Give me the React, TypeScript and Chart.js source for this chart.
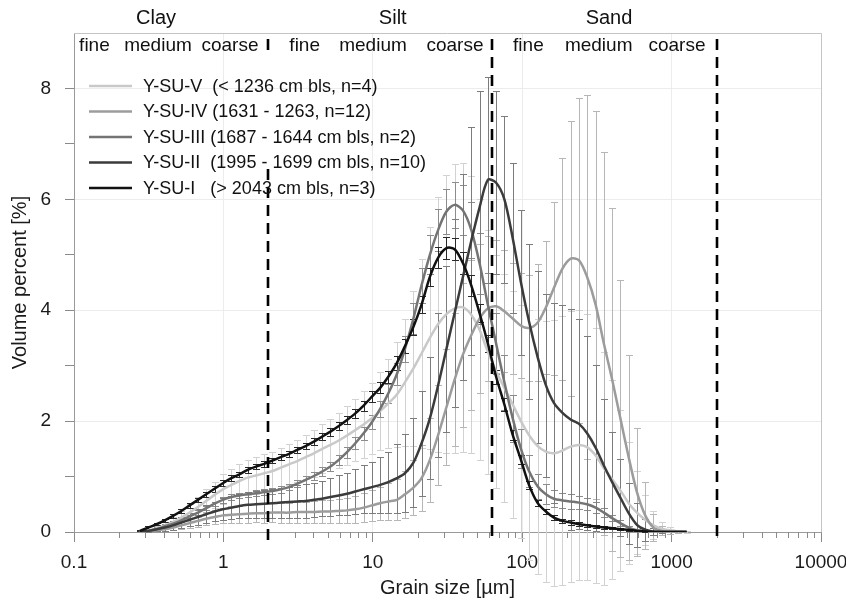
import React, { useEffect, useRef } from 'react';
import { Chart, registerables } from 'chart.js';

Chart.register(...registerables);

// ---------- DATA ----------
// grain size classes (µm)
const grainSizes = [
  0.276, 0.314, 0.357, 0.405, 0.46, 0.523, 0.594, 0.675, 0.767, 0.872, 0.991,
  1.13, 1.28, 1.45, 1.65, 1.88, 2.13, 2.42, 2.75, 3.12, 3.55, 4.03, 4.58, 5.21, 5.92, 6.72, 7.64, 8.68, 9.86,
  11.2, 12.7, 14.5, 16.4, 18.7, 21.2, 24.1, 27.4, 31.1, 35.3, 40.1, 45.6, 51.8, 58.9, 66.9, 76, 86.4, 98.1,
  111, 127, 144, 163, 186, 211, 240, 272, 310, 352, 400, 454, 516, 586, 666, 756, 859, 976,
  1110, 1260,
];

const meanV = [
  0.0, 0.03, 0.07, 0.12, 0.18, 0.26, 0.35, 0.45, 0.56, 0.67, 0.77,
  0.85, 0.92, 0.98, 1.02, 1.06, 1.1, 1.16, 1.22, 1.28, 1.35, 1.42, 1.5, 1.57, 1.65, 1.74, 1.84, 1.94, 2.05,
  2.18, 2.32, 2.48, 2.7, 2.95, 3.22, 3.5, 3.75, 3.93, 4.03, 4.05, 3.92, 3.65, 3.25, 2.9, 2.6, 2.3, 2.0,
  1.75, 1.55, 1.45, 1.42, 1.47, 1.54, 1.57, 1.53, 1.38, 1.15, 0.95, 0.75, 0.52, 0.35, 0.22, 0.12, 0.06, 0.03,
  0.01, 0.0,
];
const sdV = [
  0.0, 0.02, 0.04, 0.06, 0.09, 0.12, 0.15, 0.18, 0.21, 0.24, 0.27,
  0.28, 0.3, 0.32, 0.33, 0.34, 0.35, 0.36, 0.37, 0.38, 0.4, 0.42, 0.44, 0.47, 0.5, 0.53, 0.56, 0.6, 0.64,
  0.7, 0.8, 0.95, 1.15, 1.4, 1.7, 2.0, 2.3, 2.5, 2.6, 2.6, 2.5, 2.35, 2.2, 2.1, 2.05, 2.05, 2.1,
  2.25, 2.3, 2.35, 2.4, 2.42, 2.44, 2.44, 2.4, 2.3, 2.1, 1.8, 1.45, 1.1, 0.75, 0.45, 0.25, 0.12, 0.06,
  0.03, 0.01,
];

const meanIV = [
  0.0, 0.01, 0.03, 0.05, 0.08, 0.12, 0.16, 0.2, 0.24, 0.27, 0.3,
  0.31, 0.32, 0.33, 0.34, 0.34, 0.35, 0.35, 0.35, 0.36, 0.36, 0.36, 0.37, 0.37, 0.38, 0.39, 0.41, 0.44, 0.48,
  0.52, 0.55, 0.58, 0.68, 0.8, 0.97, 1.3, 1.75, 2.25, 2.75, 3.2, 3.55, 3.85, 4.03, 4.07, 3.98, 3.85, 3.72,
  3.68, 3.78, 4.05, 4.4, 4.75, 4.93, 4.9, 4.6, 4.1, 3.4, 2.75, 2.05, 1.35, 0.72, 0.3, 0.08, 0.02, 0.0,
  0.0, 0.0,
];
const sdIV = [
  0.0, 0.01, 0.02, 0.03, 0.05, 0.07, 0.09, 0.11, 0.12, 0.13, 0.14,
  0.15, 0.15, 0.16, 0.16, 0.17, 0.17, 0.18, 0.18, 0.19, 0.19, 0.2, 0.2, 0.21, 0.22, 0.23, 0.24, 0.26, 0.28,
  0.3, 0.33, 0.37, 0.42, 0.5, 0.6, 0.75, 0.9, 1.05, 1.2, 1.3, 1.35, 1.35, 1.3, 1.2, 1.1, 1.0, 0.95,
  0.95, 1.05, 1.2, 1.56, 2.0, 2.48, 2.93, 3.28, 3.5, 3.45, 3.1, 2.5, 1.85, 1.15, 0.6, 0.25, 0.08, 0.03,
  0.01, 0.0,
];

const meanIII = [
  0.0, 0.02, 0.05, 0.1, 0.15, 0.21, 0.28, 0.35, 0.43, 0.51, 0.58,
  0.63, 0.66, 0.68, 0.7, 0.72, 0.74, 0.77, 0.81, 0.87, 0.94, 1.01, 1.09, 1.18, 1.3, 1.44, 1.6, 1.78, 1.98,
  2.22, 2.5, 2.85, 3.3, 3.85, 4.45, 5.0, 5.45, 5.78, 5.9, 5.8, 5.45, 4.85, 4.1, 3.4, 2.7, 2.05, 1.5,
  1.1, 0.82, 0.68, 0.6, 0.57, 0.55, 0.53, 0.5, 0.44, 0.35, 0.25, 0.16, 0.08, 0.03, 0.01, 0.0, 0.0, 0.0,
  0.0, 0.0,
];
const sdIII = [
  0.0, 0.01, 0.01, 0.02, 0.02, 0.03, 0.03, 0.04, 0.04, 0.04, 0.05,
  0.05, 0.05, 0.05, 0.05, 0.05, 0.05, 0.06, 0.06, 0.06, 0.07, 0.07, 0.08, 0.08, 0.09, 0.1, 0.11, 0.12, 0.13,
  0.15, 0.17, 0.2, 0.24, 0.28, 0.32, 0.35, 0.38, 0.4, 0.42, 0.45, 0.5, 0.55, 0.58, 0.55, 0.5, 0.42, 0.35,
  0.28, 0.22, 0.18, 0.15, 0.14, 0.13, 0.12, 0.11, 0.1, 0.08, 0.06, 0.05, 0.03, 0.02, 0.01, 0.0, 0.0, 0.0,
  0.0, 0.0,
];

const meanII = [
  0.0, 0.02, 0.05, 0.08, 0.12, 0.17, 0.22, 0.27, 0.32, 0.37, 0.41,
  0.44, 0.47, 0.49, 0.5, 0.51, 0.52, 0.53, 0.54, 0.55, 0.56, 0.58, 0.6, 0.63, 0.66, 0.69, 0.73, 0.77, 0.81,
  0.85, 0.9, 0.97, 1.06, 1.25, 1.6, 2.05, 2.65, 3.3, 3.95, 4.6, 5.25, 5.85, 6.35, 6.3, 6.0, 5.3, 4.5,
  3.8, 3.15, 2.65, 2.33, 2.15, 2.03, 1.95, 1.78, 1.52, 1.2, 0.9, 0.62, 0.34, 0.13, 0.04, 0.01, 0.0, 0.0,
  0.0, 0.0,
];
const sdII = [
  0.0, 0.02, 0.04, 0.06, 0.08, 0.1, 0.12, 0.14, 0.16, 0.18, 0.2,
  0.21, 0.22, 0.23, 0.24, 0.25, 0.26, 0.27, 0.28, 0.29, 0.3, 0.31, 0.32, 0.34, 0.36, 0.38, 0.4, 0.43, 0.46,
  0.5, 0.55, 0.62, 0.7, 0.8, 0.95, 1.1, 1.3, 1.5, 1.7, 1.85, 2.05, 2.1, 1.85, 1.65, 1.5, 1.35, 1.3,
  1.4, 1.55, 1.65, 1.8, 1.95, 2.0, 1.9, 1.75, 1.5, 1.2, 0.9, 0.7, 0.55, 0.4, 0.2, 0.06, 0.02, 0.0,
  0.0, 0.0,
];

const meanI = [
  0.02, 0.08, 0.14, 0.21, 0.29, 0.38, 0.48, 0.58, 0.68, 0.78, 0.88,
  0.97, 1.04, 1.12, 1.18, 1.23, 1.29, 1.35, 1.41, 1.48, 1.55, 1.63, 1.72, 1.81, 1.91, 2.02, 2.14, 2.28, 2.44,
  2.6, 2.8, 3.05, 3.35, 3.7, 4.1, 4.6, 4.95, 5.12, 5.1, 4.85, 4.45, 3.95, 3.4, 2.8, 2.3, 1.75, 1.3,
  0.85, 0.52, 0.37, 0.26, 0.2, 0.17, 0.14, 0.12, 0.1, 0.08, 0.07, 0.05, 0.04, 0.02, 0.01, 0.0, 0.0, 0.0,
  0.0, 0.0,
];
const sdI = [
  0.01, 0.02, 0.02, 0.03, 0.03, 0.04, 0.04, 0.04, 0.05, 0.05, 0.05,
  0.05, 0.05, 0.05, 0.05, 0.05, 0.05, 0.05, 0.05, 0.06, 0.06, 0.06, 0.06, 0.07, 0.07, 0.08, 0.08, 0.09, 0.1,
  0.1, 0.11, 0.12, 0.13, 0.14, 0.15, 0.17, 0.19, 0.2, 0.2, 0.2, 0.19, 0.17, 0.15, 0.13, 0.11, 0.09, 0.08,
  0.07, 0.06, 0.05, 0.05, 0.04, 0.04, 0.04, 0.03, 0.03, 0.03, 0.02, 0.02, 0.02, 0.01, 0.01, 0.0, 0.0, 0.0,
  0.0, 0.0,
];

const seriesLabels = [
  'Y-SU-V  (< 1236 cm bls, n=4)',
  'Y-SU-IV (1631 - 1263, n=12)',
  'Y-SU-III (1687 - 1644 cm bls, n=2)',
  'Y-SU-II  (1995 - 1699 cm bls, n=10)',
  'Y-SU-I   (> 2043 cm bls, n=3)',
];

const boundaries = [2, 63, 2000];
const zoneLabels = ['Clay', 'Silt', 'Sand'];
const subLabels = ['fine', 'medium', 'coarse'];
const decadeTicks = [0.1, 1, 10, 100, 1000, 10000];
const decadeLabels = ['0.1', '1', '10', '100', '1000', '10000'];
const yTickLabels = ['0', '2', '4', '6', '8'];

// ---------- STYLE / LAYOUT ----------
const FONT = "'Liberation Sans', Arial, Helvetica, sans-serif";
const lineColors = ['#c9c9c9', '#9c9c9c', '#747474', '#3b3b3b', '#111111'];
const barColors = ['#d2d2d2', '#b6b6b6', '#8c8c8c', '#7c7c7c', '#2a2a2a'];
// anchor positions (µm) for header words
const zoneAnchors = [0.354, 13.6, 381];
const subAnchors = [
  [0.137, 0.365, 1.107],
  [3.5, 10.03, 35.5],
  [110, 325, 1086],
];

const means = [meanV, meanIV, meanIII, meanII, meanI];
const sds = [sdV, sdIV, sdIII, sdII, sdI];

const minorTicks: number[] = [];
for (let d = 0; d < decadeTicks.length - 1; d++) {
  for (let k = 2; k <= 9; k++) minorTicks.push(decadeTicks[d] * k);
}
const isDecade = (v: number) => decadeTicks.some((d) => Math.abs(d - v) / d < 1e-6);

const decorPlugin = {
  id: 'decor',
  beforeDatasetsDraw(chart: any) {
    const { ctx, scales } = chart;
    const xs = scales.x;
    const ys = scales.y;
    ctx.save();
    ctx.lineWidth = 1;
    for (let s = 0; s < means.length; s++) {
      ctx.strokeStyle = barColors[s];
      ctx.beginPath();
      grainSizes.forEach((g, i) => {
        const sd = sds[s][i];
        if (!(sd > 0)) return;
        const px = Math.round(xs.getPixelForValue(g)) + 0.5;
        const t = Math.round(ys.getPixelForValue(means[s][i] + sd)) + 0.5;
        const b = Math.round(ys.getPixelForValue(means[s][i] - sd)) + 0.5;
        ctx.moveTo(px, t);
        ctx.lineTo(px, b);
        ctx.moveTo(px - 3.5, t);
        ctx.lineTo(px + 3.5, t);
        ctx.moveTo(px - 3.5, b);
        ctx.lineTo(px + 3.5, b);
      });
      ctx.stroke();
    }
    ctx.restore();
  },
  afterDraw(chart: any) {
    const { ctx, chartArea, scales } = chart;
    const xs = scales.x;
    const { left, right, top, bottom } = chartArea;
    ctx.save();
    // plot box (top + right)
    ctx.strokeStyle = '#c4c4c4';
    ctx.lineWidth = 1;
    ctx.beginPath();
    ctx.moveTo(left, top + 0.5);
    ctx.lineTo(right + 0.5, top + 0.5);
    ctx.lineTo(right + 0.5, bottom);
    ctx.stroke();
    // minor x ticks
    ctx.strokeStyle = '#8a8a8a';
    ctx.beginPath();
    minorTicks.forEach((v) => {
      const px = Math.round(xs.getPixelForValue(v)) + 0.5;
      ctx.moveTo(px, bottom);
      ctx.lineTo(px, bottom + 6);
    });
    ctx.stroke();

    // boundary dashed lines
    ctx.strokeStyle = '#000';
    ctx.lineWidth = 2.6;
    ctx.setLineDash([11, 7]);
    boundaries.forEach((b, i) => {
      const px = Math.round(xs.getPixelForValue(b));
      ctx.beginPath();
      if (i === 0) {
        ctx.moveTo(px, top + 6);
        ctx.lineTo(px, top + 20);
        ctx.moveTo(px, top + 136);
        ctx.lineTo(px, bottom + 9);
      } else {
        ctx.moveTo(px, top + 6);
        ctx.lineTo(px, bottom + 9);
      }
      ctx.stroke();
    });
    ctx.setLineDash([]);

    // header texts
    ctx.fillStyle = '#111';
    ctx.textAlign = 'center';
    ctx.textBaseline = 'middle';
    ctx.font = `20px ${FONT}`;
    zoneLabels.forEach((z, i) => {
      ctx.fillText(z, xs.getPixelForValue(zoneAnchors[i]), top - 15);
    });
    ctx.font = `19px ${FONT}`;
    subAnchors.forEach((row) => {
      row.forEach((a, j) => {
        ctx.fillText(subLabels[j], xs.getPixelForValue(a), top + 13);
      });
    });

    // legend
    ctx.textAlign = 'left';
    ctx.font = `18px ${FONT}`;
    seriesLabels.forEach((lab, i) => {
      const yy = top + 53 + i * 25.5;
      ctx.strokeStyle = lineColors[i];
      ctx.lineWidth = 2.5;
      ctx.beginPath();
      ctx.moveTo(left + 15, yy);
      ctx.lineTo(left + 58, yy);
      ctx.stroke();
      ctx.fillStyle = '#111';
      ctx.fillText(lab, left + 69, yy + 1);
    });
    ctx.restore();
  },
};

export default function App() {
  const ref = useRef<HTMLCanvasElement | null>(null);
  useEffect(() => {
    if (!ref.current) return;
    const order = [4, 3, 2, 1, 0]; // black drawn on top
    const datasets = order.map((s) => ({
      label: seriesLabels[s],
      data: grainSizes.map((g, i) => ({ x: g, y: means[s][i] })),
      borderColor: lineColors[s],
      backgroundColor: lineColors[s],
      borderWidth: 2.5,
      pointRadius: 0,
      tension: 0.3,
      fill: false,
    }));
    const chart = new Chart(ref.current, {
      type: 'line',
      data: { datasets },
      plugins: [decorPlugin],
      options: {
        animation: false,
        responsive: false,
        devicePixelRatio: 1,
        layout: { padding: { top: 33, right: 25, left: 0, bottom: 0 } },
        plugins: { legend: { display: false }, tooltip: { enabled: false } },
        scales: {
          x: {
            type: 'logarithmic',
            min: 0.1,
            max: 10000,
            afterBuildTicks: (scale: any) => {
              scale.ticks = decadeTicks.map((v) => ({ value: v, major: true }));
            },
            afterFit: (scale: any) => {
              scale.height = 68;
              scale.paddingLeft = 0;
              scale.paddingRight = 0;
            },
            ticks: {
              autoSkip: false,
              maxRotation: 0,
              color: '#1a1a1a',
              font: { family: FONT, size: 19 },
              padding: 9,
              callback: (v: any) => {
                const idx = decadeTicks.findIndex((d) => Math.abs(d - Number(v)) / d < 1e-6);
                return idx >= 0 ? decadeLabels[idx] : '';
              },
            },
            grid: {
              color: (c: any) => (c.tick && isDecade(c.tick.value) && c.tick.value > 0.1 && c.tick.value < 10000 ? '#ececec' : 'rgba(0,0,0,0)'),
              tickColor: '#8a8a8a',
              tickLength: 10,
              drawTicks: true,
            },
            border: { color: '#9a9a9a', width: 1 },
            title: {
              display: true,
              text: 'Grain size [µm]',
              color: '#1a1a1a',
              font: { family: FONT, size: 20 },
              padding: { top: 0, bottom: 0 },
            },
          },
          y: {
            min: 0,
            max: 9,
            afterFit: (scale: any) => {
              scale.width = 74;
              scale.paddingTop = 0;
              scale.paddingBottom = 0;
            },
            ticks: {
              stepSize: 1,
              color: '#1a1a1a',
              font: { family: FONT, size: 19 },
              padding: 14,
              callback: (v: any) => {
                const n = Number(v);
                return n % 2 === 0 && n <= 8 ? yTickLabels[n / 2] : '';
              },
            },
            grid: {
              color: (c: any) => (c.tick && c.tick.value % 2 === 0 && c.tick.value > 0 && c.tick.value < 9 ? '#ececec' : 'rgba(0,0,0,0)'),
              tickColor: (c: any) => (c.tick && c.tick.value < 9 ? '#8a8a8a' : 'rgba(0,0,0,0)'),
              tickLength: 9,
            },
            border: { color: '#9a9a9a', width: 1 },
            title: {
              display: true,
              text: 'Volume percent [%]',
              color: '#1a1a1a',
              font: { family: FONT, size: 20 },
              padding: { top: 8, bottom: 0 },
            },
          },
        },
      } as any,
    });
    return () => chart.destroy();
  }, []);
  return (
    <canvas
      ref={ref}
      width={846}
      height={600}
      style={{ position: 'fixed', left: 0, top: 0, width: 846, height: 600, background: '#fff' }}
    />
  );
}
